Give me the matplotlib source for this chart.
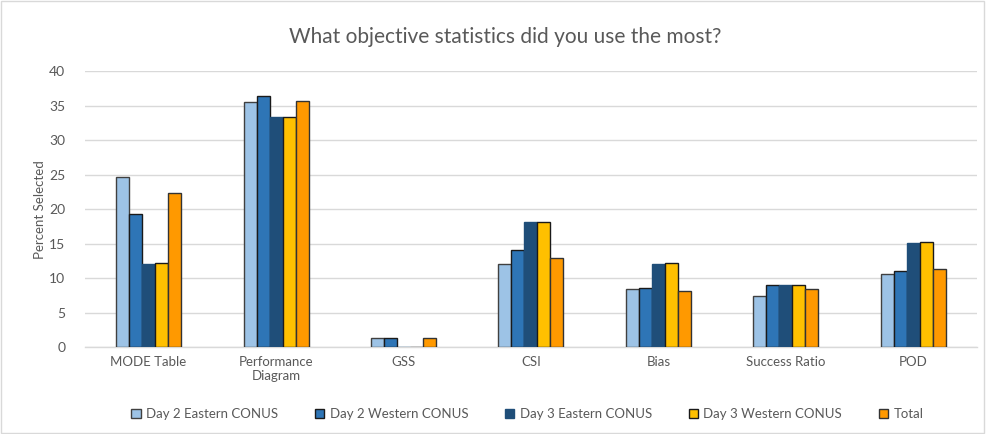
import numpy as np
import matplotlib
matplotlib.use("Agg")
import matplotlib.pyplot as plt
from matplotlib.patches import Rectangle

plt.rcParams['font.family'] = ['Lato', 'DejaVu Sans']

categories = ["MODE Table", "Performance\nDiagram", "GSS", "CSI", "Bias", "Success Ratio", "POD"]
series_names = ["Day 2 Eastern CONUS", "Day 2 Western CONUS", "Day 3 Eastern CONUS",
                "Day 3 Western CONUS", "Total"]
day2_east = [24.6, 35.5, 1.4, 12.0, 8.4, 7.4, 10.6]
day2_west = [19.3, 36.4, 1.4, 14.1, 8.6, 9.0, 11.1]
day3_east = [12.1, 33.4, 0.0, 18.2, 12.1, 9.0, 15.1]
day3_west = [12.2, 33.3, 0.0, 18.2, 12.2, 9.0, 15.2]
total = [22.4, 35.7, 1.3, 12.9, 8.1, 8.45, 11.3]

series = [day2_east, day2_west, day3_east, day3_west, total]
colors = ["#9DC3E6", "#2E75B6", "#1F4E79", "#FFC000", "#FF9900"]
edges = ["#404040", "#1a1a1a", "#1F4E79", "#1a1a1a", "#333333"]

fig = plt.figure(figsize=(9.86, 4.34), dpi=100)
ax = fig.add_axes([0.086, 0.2, 0.905, 0.636])

x = np.arange(len(categories))
width = 0.102
for i, (vals, c, ec, name) in enumerate(zip(series, colors, edges, series_names)):
    ax.bar(x + (i - 2) * width, vals, width, color=c, edgecolor=ec, linewidth=1.0,
           label=name, zorder=3)

ax.set_xlim(-0.5, len(categories) - 0.5)
ax.set_ylim(0, 40)
ax.set_yticks(np.arange(0, 41, 5))
ax.set_xticks(x)
ax.set_xticklabels(categories, fontsize=9.5, color="#595959")
ax.tick_params(axis="y", labelsize=10, colors="#595959", length=0, pad=14)
ax.tick_params(axis="x", length=0, pad=6)
ax.grid(axis="y", color="#D9D9D9", linewidth=1.0, zorder=0)
for s in ["top", "right", "left"]:
    ax.spines[s].set_visible(False)
ax.spines["bottom"].set_color("#D9D9D9")
ax.spines["bottom"].set_linewidth(1.0)

ax.set_ylabel("Percent Selected", fontsize=9.5, color="#595959", labelpad=2)
fig.text(0.512, 0.915, "What objective statistics did you use the most?",
         ha="center", va="center", fontsize=15, color="#595959")

fig.legend(loc="center", bbox_to_anchor=(0.535, 0.045), ncol=5, frameon=False,
           fontsize=9.5, handlelength=0.7, handleheight=0.7, handletextpad=0.4,
           columnspacing=2.8, labelcolor="#595959")

fig.patches.append(Rectangle((0.001, 0.002), 0.997, 0.996, transform=fig.transFigure,
                             fill=False, edgecolor="#D9D9D9", linewidth=1.0))

fig.savefig("out.png", dpi=100)
